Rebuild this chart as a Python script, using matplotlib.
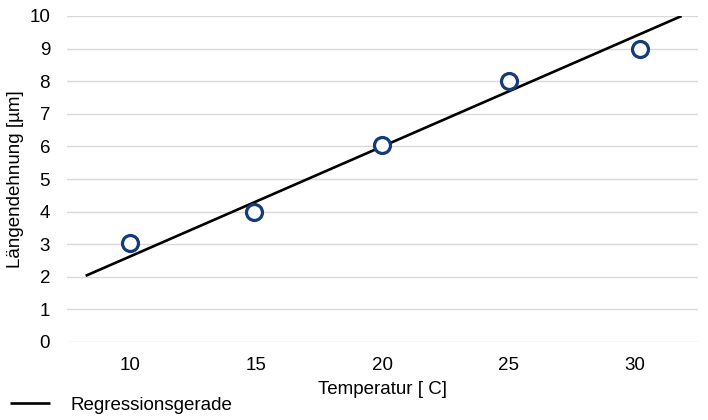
import matplotlib
matplotlib.use("Agg")
import matplotlib.pyplot as plt

# Data
temps = [10, 14.9, 20, 25, 30.2]
elong = [3.05, 4.0, 6.05, 8.0, 9.0]
reg_x = [8.25, 31.85]
reg_y = [2.03, 10.0]
x_ticks = [10, 15, 20, 25, 30]
y_ticks = list(range(0, 11))

plt.rcParams['font.family'] = ['Liberation Sans', 'DejaVu Sans']
FS = 13.5

fig = plt.figure(figsize=(7.08, 4.2), dpi=100)
ax = fig.add_axes([66.7 / 708, 1 - 342 / 420, (698 - 66.7) / 708, (342 - 16) / 420])

ax.plot(reg_x, reg_y, color='black', lw=1.9, solid_capstyle='butt',
        label='Regressionsgerade', zorder=3)
ax.plot(temps, elong, linestyle='none', marker='o', markersize=11.5,
        markerfacecolor='white', markeredgecolor='#143C78', markeredgewidth=2.3,
        zorder=4, clip_on=False)

ax.set_xlim(7.5, 32.5)
ax.set_ylim(0, 10)
ax.set_xticks(x_ticks)
ax.set_yticks(y_ticks)
ax.grid(axis='y', color='#D9D9D9', lw=1.0)
ax.set_axisbelow(True)
for s in ax.spines.values():
    s.set_visible(False)
ax.tick_params(axis='both', length=0, labelsize=FS, colors='black')
ax.tick_params(axis='y', pad=12)
ax.tick_params(axis='x', pad=11)

ax.set_xlabel('Temperatur [ C]', fontsize=FS, labelpad=5)
ax.set_ylabel('Längendehnung [µm]', fontsize=FS, labelpad=4)

fig.legend(loc='center left', bbox_to_anchor=(10 / 708, 1 - 405 / 420),
           bbox_transform=fig.transFigure, frameon=False, fontsize=FS,
           handlelength=2.15, handletextpad=1.1, borderpad=0, borderaxespad=0)

fig.savefig('out.png', dpi=100)
